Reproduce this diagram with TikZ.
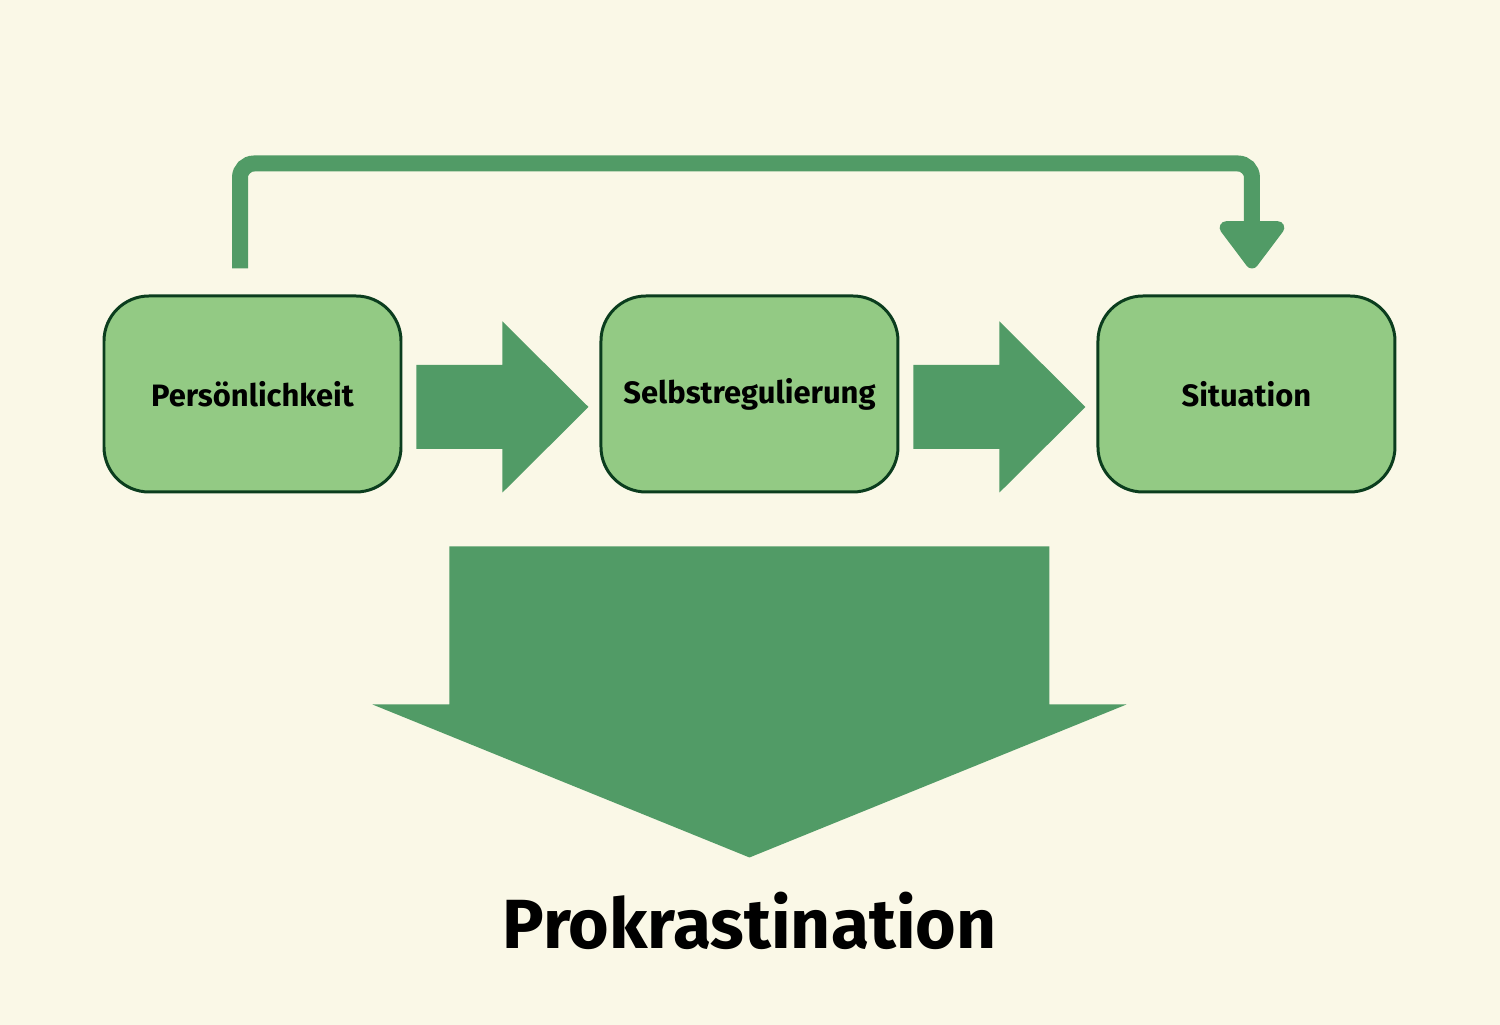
\documentclass[tikz,border=0pt]{standalone}
\usepackage{fontspec}
\setmainfont{Fira Sans}
\usetikzlibrary{arrows.meta, positioning, calc}
\definecolor{creme}{RGB}{250,248,231}
\definecolor{boxgreen}{RGB}{147,202,132}
\definecolor{darkgreen}{RGB}{11,61,30}
\definecolor{arrowgreen}{RGB}{81,155,102}
\tikzset{
  factor/.style={draw=darkgreen, line width=0.85pt, fill=boxgreen, rounded corners=0.45cm,
    minimum width=2.97cm, minimum height=1.96cm, font=\bfseries\fontsize{8.8}{11}\selectfont},
  blockarrow/.style={fill=arrowgreen},
  feedback/.style={draw=arrowgreen, line width=0.16cm, rounded corners=0.14cm,
    -{Triangle[width=0.74cm,length=0.52cm,round]}}
}

\begin{document}
\begin{tikzpicture}
  \fill[creme] (0,0) rectangle (15,10.25);
  \useasboundingbox (0,0) rectangle (15,10.25);

  \node[factor] (pers) at (2.525,6.31) {Persönlichkeit};
  \node[factor, right=1.97cm of pers] (selbst) {Selbstregulierung};
  \node[factor, right=1.97cm of selbst] (sit) {Situation};

  % block arrows between the boxes
  \foreach \from in {pers, selbst} {
    \fill[blockarrow] ($(\from.east)+(0.14,-0.55)$) -- ++(0,0.84) -- ++(0.86,0) -- ++(0,0.435)
      -- ++(0.86,-0.855) -- ++(-0.86,-0.855) -- ++(0,0.435) -- cycle;
  }

  % big arrow down
  \fill[blockarrow] ($(selbst.south)+(-3,-0.53)$) -- ++(6,0) -- ++(0,-1.58) -- ++(0.77,0)
    -- ++(-3.77,-1.53) coordinate (tip) -- ++(-3.77,1.53) -- ++(0.77,0) -- cycle;
  \node[font=\bfseries\fontsize{19.8}{24}\selectfont, anchor=base] (prok) at ($(tip)+(0,-0.91)$) {Prokrastination};

  % feedback loop
  \draw[feedback] ($(pers.north)+(-0.125,0.26)$) -- ++(0,1.05) -| ($(sit.north)+(0.055,0.26)$);
\end{tikzpicture}
\end{document}
